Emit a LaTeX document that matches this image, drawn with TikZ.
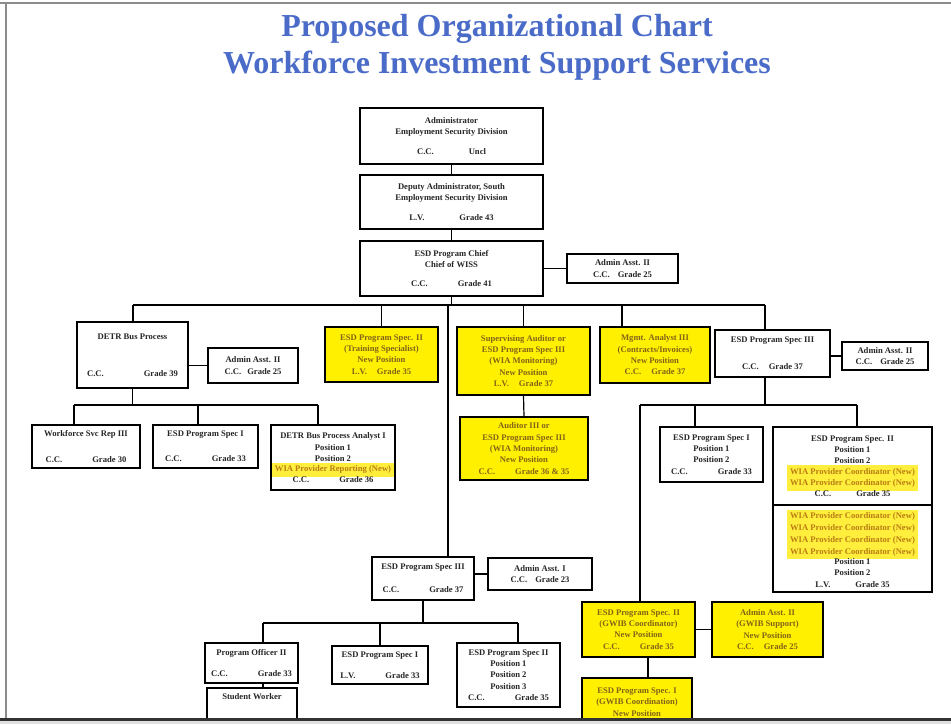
\documentclass[tikz,border=0pt]{standalone}
\usepackage{fontspec}
\setmainfont{Liberation Serif}
\definecolor{titleblue}{RGB}{74,108,200}
\definecolor{yel}{RGB}{255,240,0}
\definecolor{ytext}{RGB}{130,100,25}
\definecolor{wiatext}{RGB}{185,125,20}
\definecolor{wiahl}{RGB}{255,238,60}
\newcommand{\wia}[1]{\colorbox{wiahl}{\textcolor{wiatext}{#1}}}
\newcommand{\cgl}[3]{#2\hspace{#1}#3}
\begin{document}
\begin{tikzpicture}[x=1pt,y=-1pt,
  box/.style={draw=black, line width=1.4pt, fill=white, inner sep=1pt, align=center,
     font=\fontsize{8.6}{11.3}\selectfont\bfseries, text=black!85},
  ybox/.style={box, fill=yel, text=ytext},
  wire/.style={line width=1.2pt, black},
  ttl/.style={font=\fontsize{32}{38}\selectfont\bfseries, text=titleblue, inner sep=0pt, anchor=base}]
\useasboundingbox (0,0) rectangle (951,724);
\fill[white] (0,0) rectangle (951,724);
% frame
\fill[black!12] (0,719) rectangle (951,724);
\draw[black!45, line width=1.5pt] (0,3) -- (951,3);
\draw[black!45, line width=1.2pt] (6,3) -- (6,719);
% title
\node[ttl] (t1) at (497,36) {Proposed Organizational Chart};
\node[ttl] (t2) at (497,73) {Workforce Investment Support Services};
\begin{scope}
\clip (0,0) rectangle (951,717.5);
% top chain
\node[box, minimum width=183, minimum height=56] (admin) at (451.5,136)
  {Administrator\\Employment Security Division\\[8pt]\cgl{35pt}{C.C.}{Uncl}};
\node[box, minimum width=183, minimum height=54] (deputy) at (451.5,202)
  {Deputy Administrator, South\\Employment Security Division\\[8pt]\cgl{35pt}{L.V.}{Grade 43}};
\node[box, minimum width=183, minimum height=55] (chief) at (451.5,268.5)
  {ESD Program Chief\\Chief of WISS\\[8pt]\cgl{30pt}{C.C.}{Grade 41}};
\node[box, minimum width=111, minimum height=29] (aa1) at (622.5,268.5)
  {Admin Asst. II\\\cgl{8pt}{C.C.}{Grade 25}};
% row 1
\node[box, minimum width=111, minimum height=66] (detr) at (132.5,355)
  {DETR Bus Process\\[26pt]\cgl{40pt}{C.C.}{Grade 39}};
\node[box, minimum width=90, minimum height=35] (aa2) at (253,365.5)
  {Admin Asst. II\\\cgl{6pt}{C.C.}{Grade 25}};
\node[ybox, minimum width=113, minimum height=55] (y1) at (381.5,354.5)
  {ESD Program Spec. II\\(Training Specialist)\\New Position\\\cgl{10pt}{L.V.}{Grade 35}};
\node[ybox, minimum width=133, minimum height=68] (y2) at (523.5,361)
  {Supervising Auditor or\\ESD Program Spec III\\(WIA Monitoring)\\New Position\\\cgl{10pt}{L.V.}{Grade 37}};
\node[ybox, minimum width=110, minimum height=56] (y3) at (655,355)
  {Mgmt. Analyst III\\(Contracts/Invoices)\\New Position\\\cgl{10pt}{C.C.}{Grade 37}};
\node[box, minimum width=115, minimum height=47] (s3) at (772.5,353.5)
  {ESD Program Spec III\\[16pt]\cgl{10pt}{C.C.}{Grade 37}};
\node[box, minimum width=86, minimum height=28] (aa3) at (885,356)
  {Admin Asst. II\\\cgl{8pt}{C.C.}{Grade 25}};
% row 2 left
\node[box, minimum width=108, minimum height=43] (ws) at (86,446.5)
  {Workforce Svc Rep III\\[14pt]\cgl{30pt}{C.C.}{Grade 30}};
\node[box, minimum width=105, minimum height=43] (esd1) at (205.5,446.5)
  {ESD Program Spec I\\[14pt]\cgl{30pt}{C.C.}{Grade 33}};
\node[box, minimum width=118, minimum height=65] (an) at (333,457.5)
  {DETR Bus Process Analyst I\\Position 1\\Position 2\\[-1pt]\wia{WIA Provider Reporting (New)}\\[-1pt]\cgl{30pt}{C.C.}{Grade 36}};
% auditor
\node[ybox, minimum width=128, minimum height=63] (aud) at (524,448.5)
  {Auditor III or\\ESD Program Spec III\\(WIA Monitoring)\\New Position\\\cgl{20pt}{C.C.}{Grade 36 \& 35}};
% right group
\node[box, minimum width=103, minimum height=55] (sp1) at (711.5,454.5)
  {ESD Program Spec I\\Position 1\\Position 2\\\cgl{30pt}{C.C.}{Grade 33}};
\node[box, minimum width=159, minimum height=78] (sp2a) at (852.5,466)
  {ESD Program Spec. II\\Position 1\\Position 2\\[-1pt]\wia{WIA Provider Coordinator (New)}\\[-3pt]\wia{WIA Provider Coordinator (New)}\\[-1pt]\cgl{25pt}{C.C.}{Grade 35}};
\node[box, minimum width=159, minimum height=87] (sp2b) at (852.5,548.5)
  {\wia{WIA Provider Coordinator (New)}\\[-3pt]\wia{WIA Provider Coordinator (New)}\\[-3pt]\wia{WIA Provider Coordinator (New)}\\[-3pt]\wia{WIA Provider Coordinator (New)}\\[-1pt]Position 1\\Position 2\\\cgl{25pt}{L.V.}{Grade 35}};
% middle lower
\node[box, minimum width=102, minimum height=43] (ms3) at (423,578.5)
  {ESD Program Spec III\\[12pt]\cgl{30pt}{C.C.}{Grade 37}};
\node[box, minimum width=104, minimum height=32] (maa) at (540,574)
  {Admin Asst. I\\\cgl{8pt}{C.C.}{Grade 23}};
% bottom row
\node[box, minimum width=93, minimum height=40] (po) at (251.5,663)
  {Program Officer II\\[10pt]\cgl{30pt}{C.C.}{Grade 33}};
\node[box, minimum width=96, minimum height=38] (bs1) at (380,665)
  {ESD Program Spec I\\[10pt]\cgl{30pt}{L.V.}{Grade 33}};
\node[box, minimum width=103, minimum height=64] (bs2) at (508.5,675)
  {ESD Program Spec II\\Position 1\\Position 2\\Position 3\\\cgl{30pt}{C.C.}{Grade 35}};
\node[box, minimum width=90, minimum height=40] (sw) at (252,708)
  {Student Worker\\\mbox{}\\\mbox{}};
% yellow GWIB
\node[ybox, minimum width=113, minimum height=55] (g2) at (638.5,629.5)
  {ESD Program Spec. II\\(GWIB Coordinator)\\New Position\\\cgl{20pt}{C.C.}{Grade 35}};
\node[ybox, minimum width=111, minimum height=55] (gaa) at (767.5,629.5)
  {Admin Asst. II\\(GWIB Support)\\New Position\\\cgl{10pt}{C.C.}{Grade 25}};
\node[ybox, minimum width=110, minimum height=48] (g1) at (637,702)
  {ESD Program Spec. I\\(GWIB Coordination)\\New Position};
% connectors
\coordinate (b1L) at (133,305);
\coordinate (b1R) at (765,305);
\coordinate (b2L) at (74,405);
\coordinate (b2R) at (318,405);
\coordinate (b3L) at (640,405);
\coordinate (b3R) at (857,405);
\coordinate (b4L) at (263,623);
\coordinate (b4R) at (518,623);
\draw[wire] (admin.south) -- (deputy.north);
\draw[wire] (deputy.south) -- (chief.north);
\draw[wire] (aa1.west) -- (aa1.west -| chief.east);
\draw[wire] (chief.south) -- (chief.south |- b1L);
\draw[wire] (b1L) -- (b1R);
\draw[wire] (b1L) -- (b1L |- detr.north);
\draw[wire] (y1.north) -- (y1.north |- b1L);
\draw[wire] (y2.north) -- (y2.north |- b1L);
\draw[wire] (y3.north -| 622,0) -- (622,305);
\draw[wire] (b1R) -- (b1R |- s3.north);
\draw[wire] (448,305) -- (ms3.north -| 448,0);
\draw[wire] (y2.south) -- (aud.north);
\draw[wire] (aa2.west) -- (aa2.west -| detr.east);
\draw[wire] (detr.south) -- (detr.south |- b2L);
\draw[wire] (b2L) -- (b2R);
\draw[wire] (b2L) -- (b2L |- ws.north);
\draw[wire] (esd1.north -| 198,0) -- (198,405);
\draw[wire] (b2R) -- (b2R |- an.north);
\draw[wire] (aa3.west) -- (aa3.west -| s3.east);
\draw[wire] (b1R |- s3.south) -- (b1R |- b3L);
\draw[wire] (b3L) -- (b3R);
\draw[wire] (b3L) -- (b3L |- g2.north);
\draw[wire] (sp1.north -| 695,0) -- (695,405);
\draw[wire] (b3R) -- (b3R |- sp2a.north);
\draw[wire] (maa.west) -- (maa.west -| ms3.east);
\draw[wire] (ms3.south) -- (ms3.south |- b4L);
\draw[wire] (b4L) -- (b4R);
\draw[wire] (b4L) -- (b4L |- po.north);
\draw[wire] (bs1.north) -- (bs1.north |- b4L);
\draw[wire] (b4R) -- (b4R |- bs2.north);
\draw[wire] (po.south -| b4L) -- (sw.north -| b4L);
\draw[wire] (gaa.west) -- (gaa.west -| g2.east);
\draw[wire] (g2.south -| 648,0) -- (g1.north -| 648,0);
\end{scope}
\fill[black!80] (0,717.5) rectangle (951,720.5);
\end{tikzpicture}
\end{document}
